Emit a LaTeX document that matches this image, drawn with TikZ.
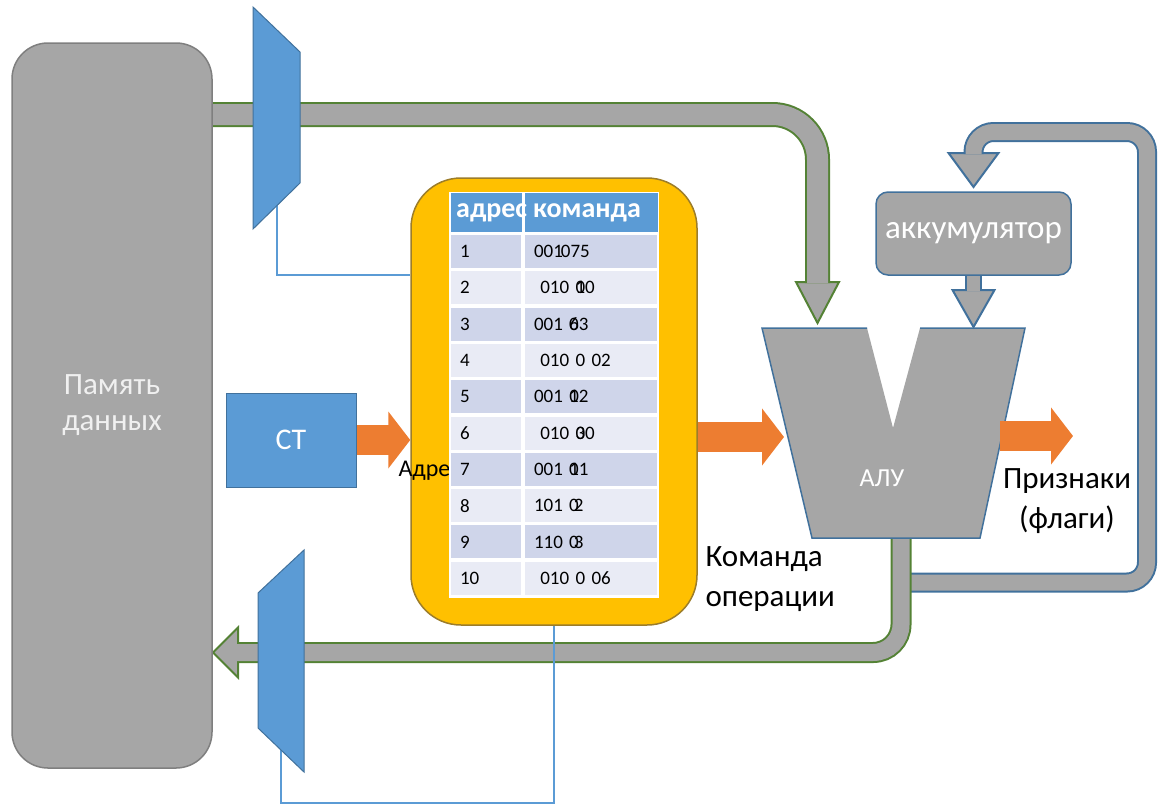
\documentclass[tikz,border=0pt]{standalone}
\usepackage{fontspec}
\setmainfont{Carlito}
\usetikzlibrary{arrows.meta,calc}
\definecolor{memfill}{RGB}{166,166,166}
\definecolor{memborder}{RGB}{127,127,127}
\definecolor{memtext}{RGB}{240,240,240}
\definecolor{busgreen}{RGB}{84,130,53}
\definecolor{bluefill}{RGB}{91,155,213}
\definecolor{blueborder}{RGB}{65,113,156}
\definecolor{progfill}{RGB}{255,192,0}
\definecolor{progborder}{RGB}{156,125,42}
\definecolor{flowcolor}{RGB}{237,125,49}
\definecolor{rowdark}{RGB}{207,213,234}
\definecolor{rowlight}{RGB}{233,235,245}
\tikzset{
    block/.style={
        rectangle,
        draw=blueborder,
        line width=1.5pt,
        text=white,
        align=center,
        font=\fontsize{26}{32}\selectfont
    },
    memblock/.style={block, fill=memfill, draw=memborder, rounded corners=36pt,
        minimum width=200pt, minimum height=725pt, text=memtext,
        font=\fontsize{31}{36}\selectfont},
    ctblock/.style={block, fill=bluefill, line width=1pt, minimum width=130pt, minimum height=94pt,
        font=\fontsize{30}{34}\selectfont},
    progblock/.style={rectangle, rounded corners=50pt, fill=progfill, draw=progborder,
        line width=1.5pt, minimum width=286pt, minimum height=447pt},
    accblock/.style={block, fill=memfill, rounded corners=12pt, minimum width=195pt,
        minimum height=83pt, font=\fontsize{33}{38}\selectfont},
    mux/.style={fill=bluefill, draw=blueborder, line width=1pt},
    ctrl/.style={draw=bluefill, line width=2.5pt},
    greenbus/.style={draw=busgreen, double=memfill, line width=2pt, rounded corners=45pt},
    bluebus/.style={draw=blueborder, double=memfill, line width=2pt, rounded corners=20pt},
    greenhead/.style={fill=memfill, draw=busgreen, line width=2pt},
    bluehead/.style={fill=memfill, draw=blueborder, line width=2pt},
    flow/.style={draw=flowcolor, line width=30pt, -{Triangle[length=22pt,width=56pt]}},
    txt/.style={font=\fontsize{31}{40}\selectfont},
    hdrcell/.style={rectangle, fill=bluefill, minimum height=39pt, inner sep=0pt},
    hdrtxt/.style={text=white, font=\bfseries\fontsize{28}{32}\selectfont, inner sep=0pt},
    numcell/.style={rectangle, minimum width=70pt, minimum height=33pt, text width=52pt,
        inner xsep=9pt, inner ysep=0pt, align=left, font=\fontsize{19}{22}\selectfont},
    codecell/.style={numcell, minimum width=132pt, text width=114pt}
}

\begin{document}
\begin{tikzpicture}[x=1pt, y=-1pt]
    \useasboundingbox (0,0) rectangle (1158,806);

    % bus ends and taps
    \coordinate (bus-out) at (212,114.5);
    \coordinate (alu-top-tip) at (817.5,323);
    \coordinate (bus-back) at (901,538);
    \coordinate (mem-in-tip) at (213,652.5);
    \coordinate (fb-start) at (905,582.5);
    \coordinate (acc-in-tip) at (973.5,187);
    \coordinate (acc-out-tip) at (973.5,327);
    \coordinate (sel-top) at (277,205);
    \coordinate (sel-bot) at (281,743);
    \coordinate (alu-in) at (784,437);
    \coordinate (alu-out) at (1000,436);
    \coordinate (flag-tip) at (1073,436);

    % Feedback from ALU to accumulator
    \filldraw[bluehead] (acc-in-tip) -- ++(-25,-34) -- ++(50,0) -- cycle;
    \draw[bluebus, double distance=16pt] (fb-start) -- (1147,582.5) -- (1147,132) -- (973.5,132) -- (973.5,154);

    % Data buses
    \filldraw[greenhead] (alu-top-tip) -- ++(-21.5,-41) -- ++(43,0) -- cycle;
    \draw[greenbus, double distance=21pt] (bus-out) -- (817.5,114.5) -- (817.5,283);
    \filldraw[greenhead] (mem-in-tip) -- ++(25,-25) -- ++(0,50) -- cycle;
    \draw[greenbus, double distance=17pt, rounded corners=28pt] (bus-back) -- (901,652.5) -- (237,652.5);

    % Memory
    \node[memblock] (mem) at (112,405.5) {Память\\данных};

    % Program memory
    \node[progblock] (prog) at (554,401.5) {};
    \draw[ctrl] (sel-top) |- ([yshift=126.5pt]prog.west);
    \draw[ctrl] (sel-bot) -- ++(0,60) -| (prog.south);
    \filldraw[mux] (253,7) -- (300,52) -- (300,183) -- (253,229) -- cycle;
    \filldraw[mux] (258,593) -- (304,550) -- (304,772) -- (258,728) -- cycle;
    \node[txt, anchor=base west, font=\fontsize{24}{28}\selectfont] (addr-lbl) at (395,476) {Адрес};

    % Table
    \fill[white] (449,192) rectangle (659,598);
    \node[hdrcell, minimum width=71pt] (hdr-addr) at (486,212.5) {};
    \node[hdrcell, minimum width=133pt] (hdr-cmd) at (591,212.5) {};
    \node[hdrtxt, anchor=west] at (456,212.5) {адрес};
    \node[hdrtxt, anchor=west] at (533,212.5) {команда};
    \foreach \i/\code/\shade in {
        1/{001\kern-2pt075}/rowdark,
        2/{\ 010 \rlap{0}10}/rowlight,
        3/{001 \rlap{0}63}/rowdark,
        4/{\ 010 0 02}/rowlight,
        5/{001 \rlap{1}02}/rowdark,
        6/{\ 010 \rlap{0}30}/rowlight,
        7/{001 \rlap{0}11}/rowdark,
        8/{101 0\kern-5pt2}/rowlight,
        9/{110 0\kern-5pt3}/rowdark,
        10/{\ 010 0 06}/rowlight} {
        \pgfmathsetmacro\rowy{251.5+(\i-1)*36.3}
        \node[numcell, fill=\shade] (num\i) at (486,\rowy) {\i};
        \node[codecell, fill=\shade] (code\i) at (591,\rowy) {\code};
    }

    % Counter
    \node[ctblock] (ct) at (291,440) {СТ};
    \draw[flow] (ct.east) -- (ct.east -| prog.west);

    % ALU
    \fill[memfill] (762,328) -- (867,328) -- (893,428) -- (920,328) -- (1025,328) -- (980,538) -- (812,538) -- cycle;
    \draw[draw=blueborder, line width=1.5pt] (867,328) -- (762,328) -- (812,538) -- (980,538) -- (1025,328) -- (920,328);
    \node[text=white, font=\fontsize{26}{32}\selectfont] (alu) at (882,478) {АЛУ};
    \draw[flow] (prog.east |- alu-in) -- (alu-in);
    \draw[flow] (alu-out) -- (flag-tip);

    % Accumulator
    \filldraw[bluehead] (acc-out-tip) -- ++(-21,-37) -- ++(42,0) -- cycle;
    \draw[bluebus, double distance=13pt] (973.5,275) -- (973.5,291);
    \node[accblock] (acc) at (973.5,233.5) {аккумулятор};

    % Labels
    \node[txt, anchor=west, align=left] (cmd-lbl) at (702,579) {Команда\\операции};
    \node[txt, align=center] (flag-lbl) at (1067,501) {Признаки\\(флаги)};
\end{tikzpicture}
\end{document}
